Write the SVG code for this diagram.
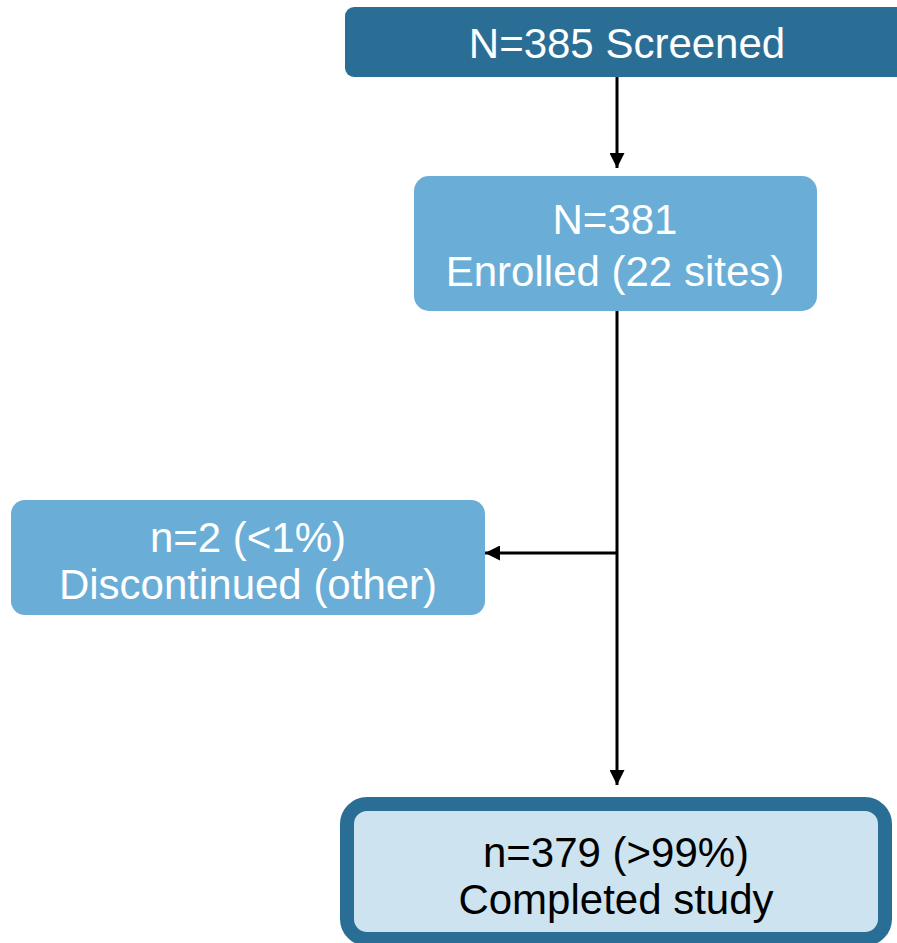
<svg xmlns="http://www.w3.org/2000/svg" width="897" height="943" viewBox="0 0 897 943">
<defs>
<style>
.t{font-family:"Liberation Sans",Arial,sans-serif;font-size:42px;text-anchor:middle}
.w{fill:#ffffff}
.k{fill:#000000}
.c{stroke:#000;stroke-width:3;fill:none}
</style>
<marker id="ah" viewBox="0 0 10 10" refX="10" refY="5" markerWidth="5" markerHeight="5" markerUnits="strokeWidth" orient="auto">
<path d="M0,0 L10,5 L0,10 z" fill="#000"/>
</marker>
</defs>
<rect width="897" height="943" fill="#ffffff"/>
<g id="connectors">
<line class="c" x1="617" y1="77" x2="617" y2="168" marker-end="url(#ah)"/>
<line class="c" x1="617" y1="311" x2="617" y2="785" marker-end="url(#ah)"/>
<line class="c" x1="617" y1="553" x2="485" y2="553" marker-end="url(#ah)"/>
</g>
<g id="screened">
<rect x="345" y="7" width="570" height="70" rx="9" fill="#2a6e96"/>
<text class="t w" x="627" y="58">N=385 Screened</text>
</g>
<g id="enrolled">
<rect x="414" y="176" width="403" height="135" rx="15" fill="#6aaed8"/>
<text class="t w" x="615" y="234">N=381</text>
<text class="t w" x="615" y="286">Enrolled (22 sites)</text>
</g>
<g id="discontinued">
<rect x="11" y="500" width="474" height="115" rx="14" fill="#6aaed8"/>
<text class="t w" x="248" y="552">n=2 (&lt;1%)</text>
<text class="t w" x="248" y="599">Discontinued (other)</text>
</g>
<g id="completed">
<rect x="347" y="804" width="538" height="135" rx="20" fill="#cde3f0" stroke="#2a6e96" stroke-width="14"/>
<text class="t k" x="616" y="867">n=379 (&gt;99%)</text>
<text class="t k" x="616" y="914">Completed study</text>
</g>
</svg>
